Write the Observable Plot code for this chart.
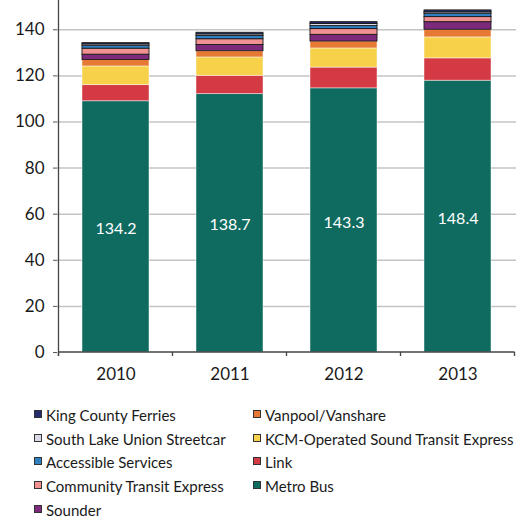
<!DOCTYPE html>
<html><head><meta charset="utf-8">
<script src="https://cdn.jsdelivr.net/npm/d3@7"></script>
<script src="https://cdn.jsdelivr.net/npm/@observablehq/plot@0.6"></script>
<style>
body{margin:0;background:#fff;font-family:Lato,"Open Sans",sans-serif;}
#legend{display:grid;grid-template-columns:219px auto;grid-auto-flow:column;grid-template-rows:repeat(5,23.7px);padding-left:34px;margin-top:12px;font-size:15px;color:#1a1a1a;}
.item{display:flex;align-items:flex-start;line-height:23.7px;white-space:nowrap;}
.sw{width:6px;height:6px;border:1px solid #333;margin-top:6px;margin-right:4px;flex:none;}
</style>
</head><body>
<div id="chart"></div>
<div id="legend"></div>
<script>
const years = ["2010","2011","2012","2013"];
const totals = [134.2,138.7,143.3,148.4];
const seriesNames = ["Metro Bus","Link","KCM-Operated Sound Transit Express","Vanpool/Vanshare","Sounder","Community Transit Express","Accessible Services","South Lake Union Streetcar","King County Ferries"];
const metroBus   = [109.0,112.1,114.6,117.9];
const link       = [7.0,7.9,9.0,9.7];
const kcmST      = [8.1,8.0,8.3,9.1];
const vanpool    = [2.8,2.7,3.0,3.3];
const sounder    = [2.3,2.7,2.9,3.3];
const ctExpress  = [2.6,2.5,2.5,2.2];
const accessible = [1.3,1.4,1.3,1.5];
const slu        = [0.6,0.7,0.9,0.6];
const ferries    = [0.5,0.7,0.8,0.8];
const seriesColors = ["#0f6b5f","#d33a43","#f8d14b","#e67a35","#7d2a7d","#f29191","#2f7fc1","#d9d9e8","#232c6e"];
const outlined = ["Sounder","Community Transit Express","Accessible Services","South Lake Union Streetcar","King County Ferries"];
const legendOrder = ["King County Ferries","South Lake Union Streetcar","Accessible Services","Community Transit Express","Sounder","Vanpool/Vanshare","KCM-Operated Sound Transit Express","Link","Metro Bus"];
const yTicks = [0,20,40,60,80,100,120,140];

const seriesValues = [metroBus,link,kcmST,vanpool,sounder,ctExpress,accessible,slu,ferries];
const colorOf = Object.fromEntries(seriesNames.map((s,i)=>[s,seriesColors[i]]));
const data = [];
seriesNames.forEach((s,i)=>years.forEach((y,j)=>data.push({year:y,series:s,value:seriesValues[i][j]})));
const labels = years.map((y,j)=>({year:y,total:totals[j],mid:metroBus[j]/2}));

const plot = Plot.plot({
  width:527, height:392,
  marginLeft:57, marginRight:11, marginTop:0, marginBottom:40,
  style:{fontFamily:"Lato, 'Open Sans', sans-serif", fontSize:"16px", color:"#1a1a1a", background:"#fff"},
  x:{type:"band", domain:years, paddingInner:0.416, paddingOuter:0.208, label:null},
  y:{domain:[0,152.7], label:null},
  color:{type:"identity"},
  marks:[
    Plot.gridY(yTicks.slice(1), {stroke:"#c4c4c4", strokeOpacity:1, strokeWidth:1.5}),
    Plot.barY(data, {x:"year", y:"value", z:"series",
      fill:d=>colorOf[d.series],
      stroke:d=>outlined.includes(d.series)?"#1a1a1a":"#ffffff",
      strokeOpacity:d=>outlined.includes(d.series)?1:0.5,
      strokeWidth:0.9}),
    Plot.text(labels, {x:"year", y:"mid", text:d=>d.total.toFixed(1), fill:"white", fontSize:16, dy:2}),
    Plot.axisY(yTicks, {tickSize:4, tickPadding:9, fontSize:17, stroke:"#555", label:null}),
    Plot.axisX({tickSize:0, tickPadding:15, fontSize:17, label:null})
  ]
});
document.getElementById("chart").appendChild(plot);

// axis lines and band-boundary ticks, from the plot's own scales
const xs = plot.scale("x"), ys = plot.scale("y");
const svg = d3.select(plot.tagName==="svg"?plot:plot.querySelector("svg"));
const y0 = ys.apply(0), yTop = ys.apply(ys.domain[1]);
const gap = (xs.step - xs.bandwidth)/2;
const bounds = years.map(y=>xs.apply(y)-gap).concat([xs.apply(years[years.length-1])+xs.bandwidth+gap]);
const g = svg.append("g").attr("stroke","#444").attr("stroke-width",1.3);
g.append("line").attr("x1",bounds[0]).attr("x2",bounds[0]).attr("y1",yTop).attr("y2",y0+4);
g.append("line").attr("x1",bounds[0]).attr("x2",bounds[bounds.length-1]).attr("y1",y0).attr("y2",y0);
bounds.forEach(b=>g.append("line").attr("x1",b).attr("x2",b).attr("y1",y0).attr("y2",y0+4));

const leg = document.getElementById("legend");
legendOrder.forEach(s=>{
  const it=document.createElement("div"); it.className="item";
  const sw=document.createElement("span"); sw.className="sw"; sw.style.background=colorOf[s];
  it.appendChild(sw); it.appendChild(document.createTextNode(s)); leg.appendChild(it);
});
</script>
</body></html>
